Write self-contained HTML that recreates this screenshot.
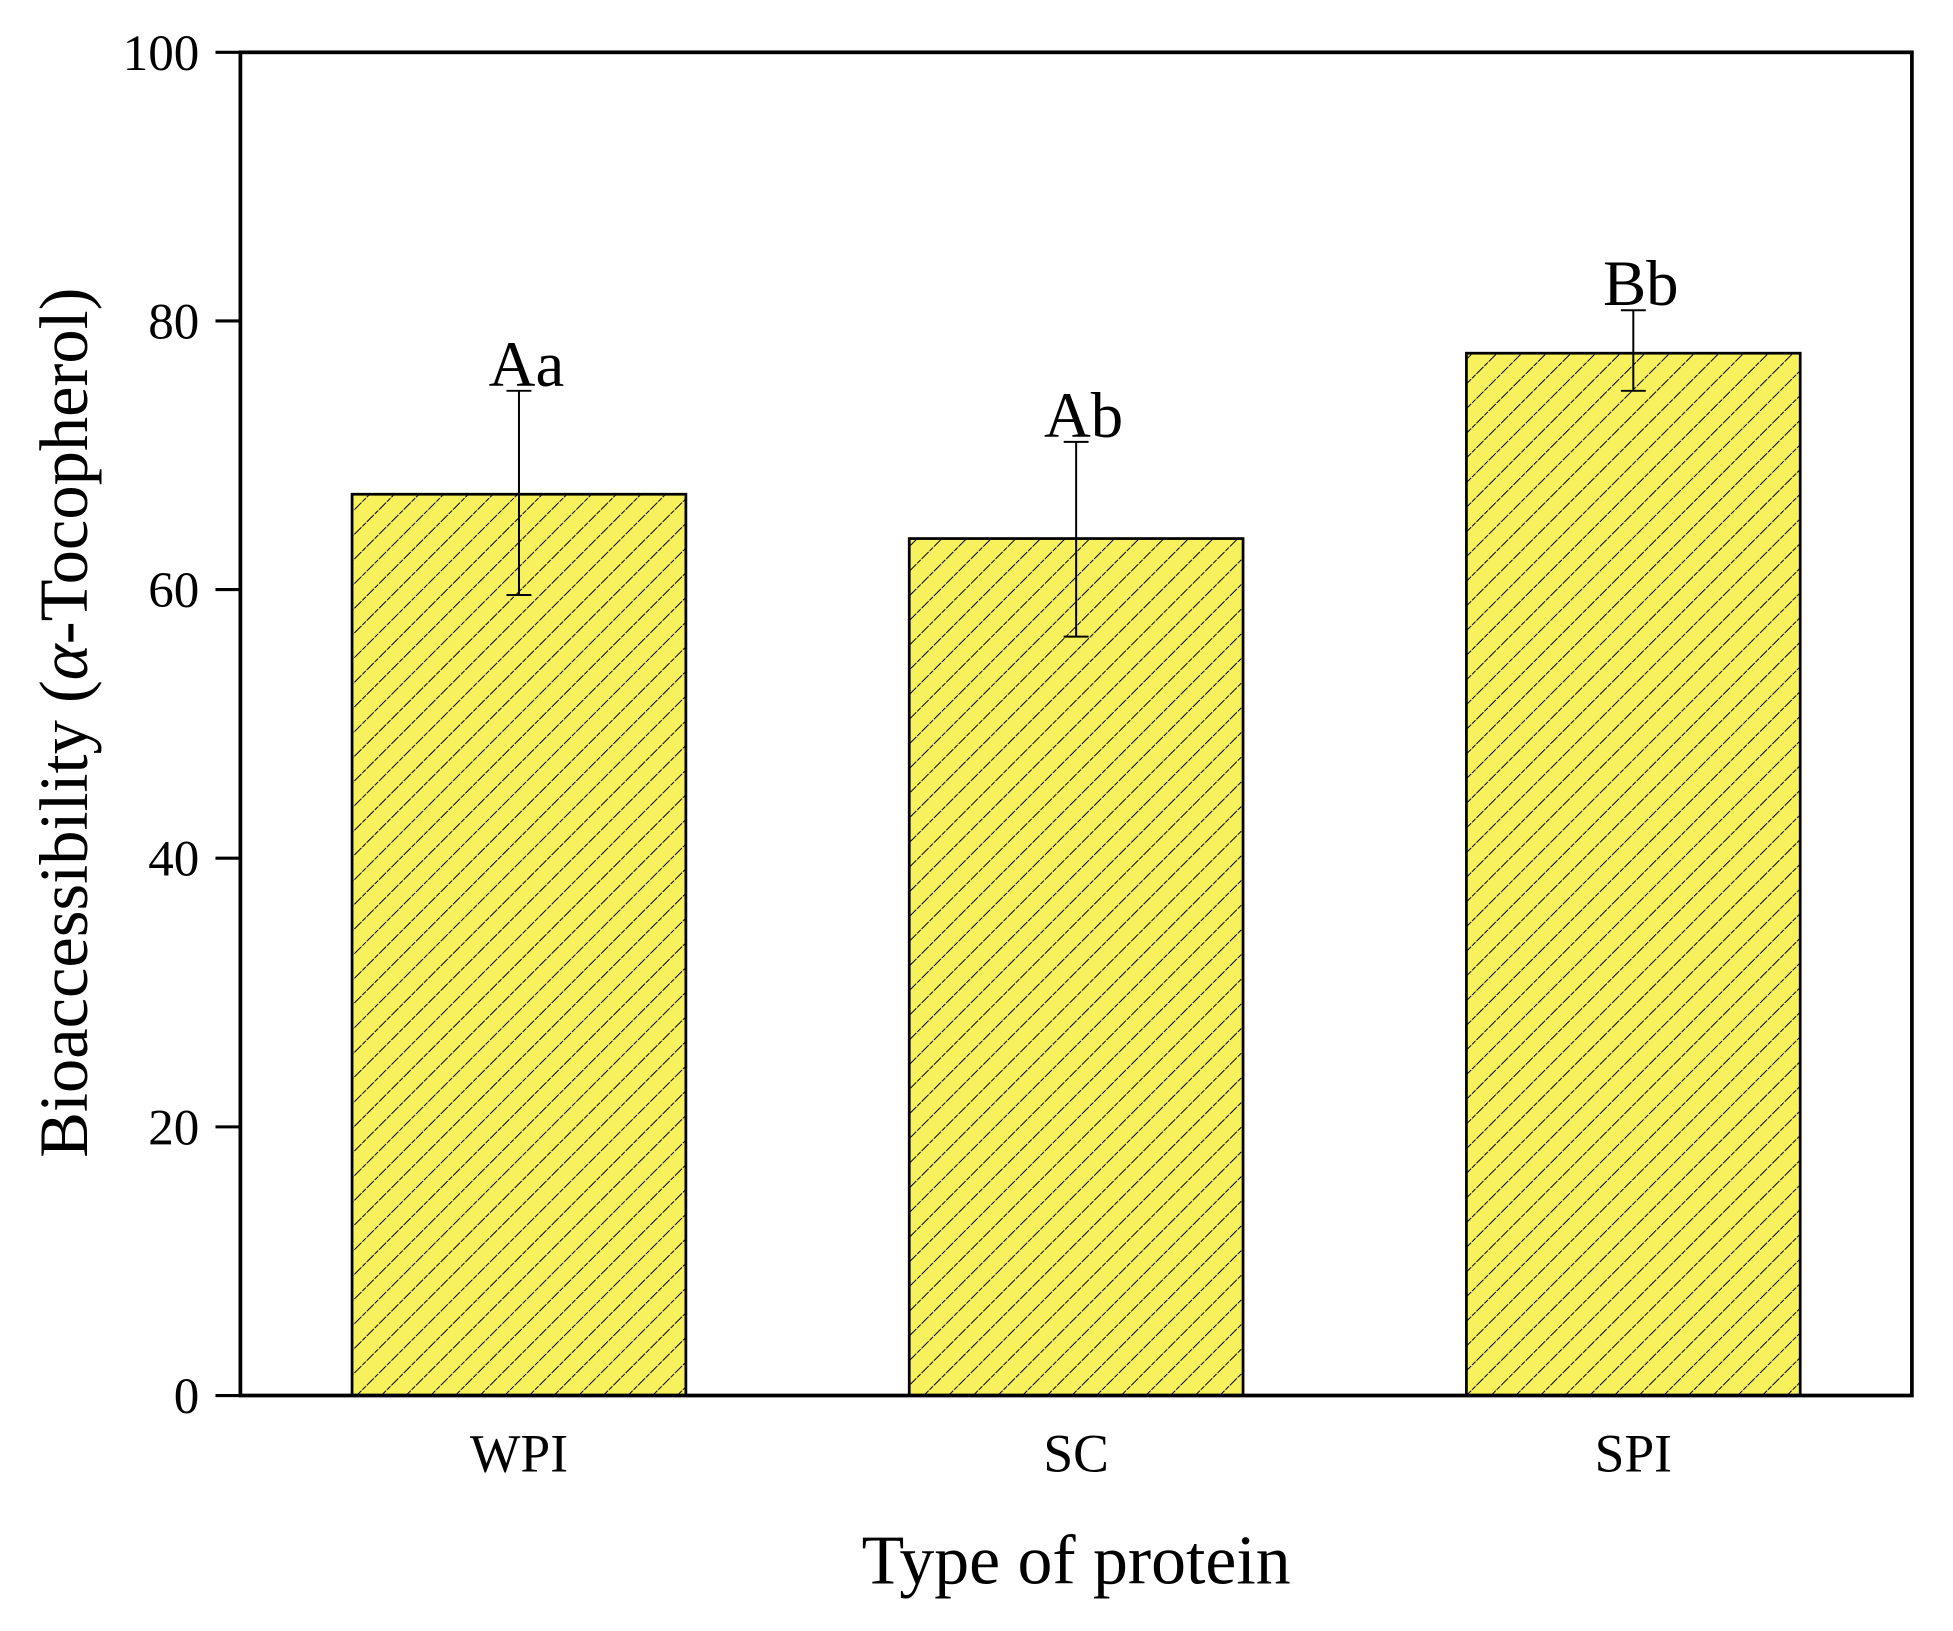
<!DOCTYPE html>
<html><head><meta charset="utf-8"><style>
html,body{margin:0;padding:0;background:#fff;}
svg{display:block;}
text{font-family:"Liberation Serif",serif;fill:#000;}
</style></head><body>
<svg id="chart" width="1953" height="1631" viewBox="0 0 1568 1309" preserveAspectRatio="none" xmlns="http://www.w3.org/2000/svg">
<defs>
<pattern id="hatch" patternUnits="userSpaceOnUse" width="14" height="14" patternTransform="rotate(45)">
<rect width="14" height="14" fill="#f8f15e"/>
<line x1="0" y1="0" x2="0" y2="14" stroke="#000" stroke-width="1.6" stroke-dasharray="4 1"/>
</pattern>
</defs>
<g id="plot"></g>
</svg>
<script>
const categories = ["WPI", "SC", "SPI"];
const values = [67.1, 63.8, 77.6];
const errTop = [74.8, 71.0, 80.8];
const errBottom = [59.6, 56.5, 74.8];
const letters = ["Aa", "Ab", "Bb"];
const yTicks = [0, 20, 40, 60, 80, 100];

const NS = "http://www.w3.org/2000/svg";
const g = document.getElementById('plot');
const L = 193, R = 1535, T = 42, B = 1120;
const y = v => B - (v / 100) * (B - T);
const bandW = (R - L) / categories.length;
const barW = 268;
function el(tag, attrs, parent) {
  const e = document.createElementNS(NS, tag);
  for (const k in attrs) e.setAttribute(k, attrs[k]);
  (parent || g).appendChild(e);
  return e;
}
categories.forEach((c, i) => {
  const x = L + bandW * i + (bandW - barW) / 2;
  const center = x + barW / 2;
  const b = el('rect', {x: x, y: y(values[i]), width: barW, height: B - y(values[i]), fill: 'url(#hatch)', stroke: '#000', 'stroke-width': 2.2});
  
  
  const eg = el('g', {stroke: '#000', 'stroke-width': 1.6});
  
  
  el('line', {x1: center, x2: center, y1: y(errTop[i]), y2: y(errBottom[i])}, eg);
  el('line', {x1: center - 10, x2: center + 10, y1: y(errTop[i]), y2: y(errTop[i])}, eg);
  el('line', {x1: center - 10, x2: center + 10, y1: y(errBottom[i]), y2: y(errBottom[i])}, eg);
  const t = el('text', {x: center + 6, y: y(errTop[i]) - 4, 'text-anchor': 'middle', 'font-size': 52});
  t.textContent = letters[i];
  
  
  const xl = el('text', {x: center, y: 1181, 'text-anchor': 'middle', 'font-size': 43});
  xl.textContent = c;
  
  
});
yTicks.forEach(v => {
  const tk = el('line', {x1: 173, x2: L, y1: y(v), y2: y(v), stroke: '#000', 'stroke-width': 2.5});
  
  
  const tl = el('text', {x: 160, y: y(v) + 14, 'text-anchor': 'end', 'font-size': 41});
  tl.textContent = v;
  
  
});
const frame = el('rect', {x: L, y: T, width: R - L, height: B - T, fill: 'none', stroke: '#000', 'stroke-width': 3});


const xt = el('text', {x: 864, y: 1271, 'text-anchor': 'middle', 'font-size': 56});
xt.textContent = 'Type of protein';


const yt = el('text', {x: 0, y: 0, 'text-anchor': 'middle', 'font-size': 55, transform: 'translate(70,580) rotate(-90)'});
yt.innerHTML = 'Bioaccessibility (<tspan font-style="italic">α</tspan>-Tocopherol)';


</script>
</body></html>
